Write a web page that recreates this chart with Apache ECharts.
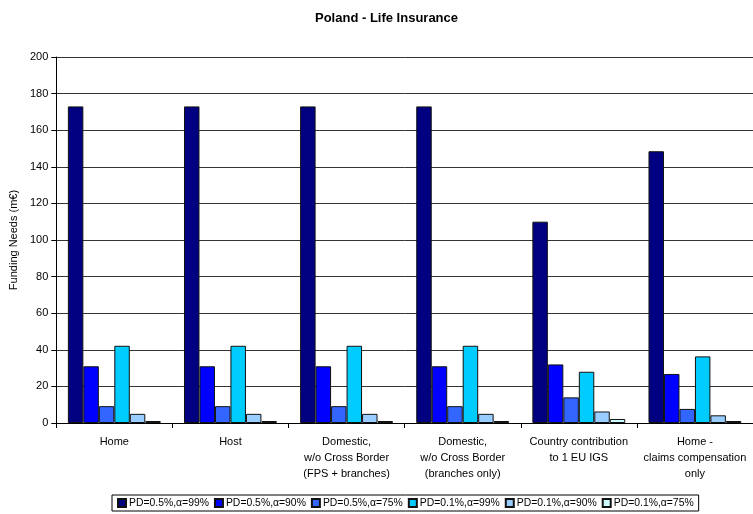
<!DOCTYPE html>
<html>
<head>
<meta charset="utf-8">
<script src="https://cdn.jsdelivr.net/npm/echarts@6/dist/echarts.min.js"></script>
<style>
  html, body { margin: 0; padding: 0; background: #fff; }
  #chart { width: 753px; height: 514px; }
</style>
</head>
<body>
<div id="chart"></div>
<script>
// Funding needs per scenario, Polish life insurance
const categories = [
  'Home',
  'Host',
  'Domestic,\nw/o Cross Border\n(FPS + branches)',
  'Domestic,\nw/o Cross Border\n(branches only)',
  'Country contribution\nto 1 EU IGS',
  'Home -\nclaims compensation\nonly'
];
const seriesNames = [
  'PD=0.5%,α=99%', 'PD=0.5%,α=90%', 'PD=0.5%,α=75%',
  'PD=0.1%,α=99%', 'PD=0.1%,α=90%', 'PD=0.1%,α=75%'
];
const pd05a99 = [173, 173, 173, 173, 110, 148.5];
const pd05a90 = [31, 31, 31, 31, 32, 26.8];
const pd05a75 = [9.2, 9.2, 9.2, 9.2, 14, 7.7];
const pd01a99 = [42.2, 42.2, 42.2, 42.2, 28, 36.4];
const pd01a90 = [5, 5, 5, 5, 6.3, 4.2];
const pd01a75 = [1.1, 1.1, 1.1, 1.1, 2.2, 1.1];
const yTicks = [0, 20, 40, 60, 80, 100, 120, 140, 160, 180, 200];

const colors = ['#000080', '#0000FF', '#3366FF', '#00CCFF', '#99CCFF', '#CCFFFF'];
const seriesData = [pd05a99, pd05a90, pd05a75, pd01a99, pd01a90, pd01a75];
const font = '"Liberation Sans Narrow", "Liberation Sans", Arial, sans-serif';

const chart = echarts.init(document.getElementById('chart'));
chart.setOption({
  animation: false,
  textStyle: { fontFamily: font, color: '#000' },
  title: {
    text: 'Poland - Life Insurance',
    left: 310,
    top: 7,
    textStyle: { fontFamily: font, fontSize: 13, fontWeight: 'bold', color: '#000' }
  },
  legend: {
    bottom: 3,
    left: 112,
    itemWidth: 8,
    itemHeight: 8,
    itemGap: 5,
    padding: [3, 5],
    borderColor: '#000',
    borderWidth: 1,
    textStyle: { fontFamily: font, fontSize: 10.4, color: '#000', padding: [0, 0, 0, -2] },
    data: seriesNames.map(n => ({ name: n, icon: 'rect' }))
  },
  grid: { left: 55, right: -12, top: 57, bottom: 91, containLabel: false },
  xAxis: {
    type: 'category',
    data: categories,
    axisLine: { lineStyle: { color: '#000', width: 1 } },
    axisTick: { show: true, length: 5, lineStyle: { color: '#000' } },
    axisLabel: {
      interval: 0, fontFamily: font, fontSize: 11, color: '#000',
      lineHeight: 16, margin: 11
    }
  },
  yAxis: {
    type: 'value',
    min: yTicks[0],
    max: yTicks[yTicks.length - 1],
    interval: yTicks[1] - yTicks[0],
    name: 'Funding Needs (m€)',
    nameLocation: 'middle',
    nameGap: 31,
    nameTextStyle: { fontFamily: font, fontSize: 11, color: '#000' },
    axisLine: { show: true, lineStyle: { color: '#000' } },
    axisTick: { show: true, length: 5, lineStyle: { color: '#000' } },
    axisLabel: { fontFamily: font, fontSize: 11, color: '#000', margin: 8 },
    splitLine: { lineStyle: { color: '#333', width: 1 } }
  },
  series: seriesNames.map((name, i) => ({
    name,
    type: 'bar',
    data: seriesData[i],
    barGap: '0%',
    barCategoryGap: '20%',
    itemStyle: { color: colors[i], borderColor: '#111', borderWidth: 1 }
  }))
});
</script>
</body>
</html>
